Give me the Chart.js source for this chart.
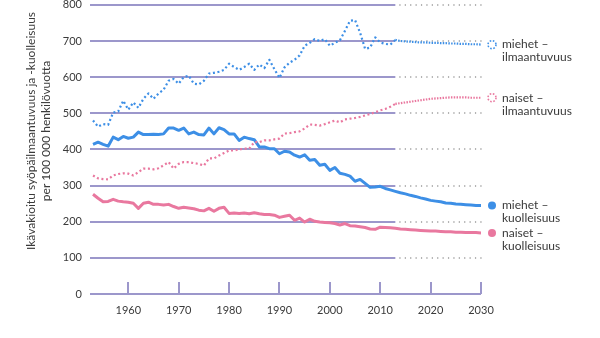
<!DOCTYPE html>
<html>
<head>
    <title>Syöpäilmaantuvuus ja kuolleisuus</title>
    <style>
        body {
            margin: 0;
            padding: 0;
            background-color: #ffffff;
        }

        #wrap {
            position: relative;
            width: 600px;
            height: 338px;
            overflow: hidden;
        }

        /* shifted up so the 800 label gets clipped like the original */
        canvas {
            display: block;
            position: absolute;
            left: 0;
            top: -7px;
        }
    </style>
    <script src="https://cdn.jsdelivr.net/npm/chart.js@4"></script>
    <script>
        // Years 1953-2012 observed, 2013-2030 projection
        var years = [];
        for (var yr = 1953; yr <= 2030; yr++) years.push(yr);

        var menIncidence = [
            480, 463, 470, 468, 502, 505, 535, 510, 530, 515,
            540, 555, 540, 555, 565, 590, 595, 582, 600, 604,
            582, 580, 590, 610, 612, 615, 620, 637, 628, 620,
            628, 637, 620, 635, 625, 648, 622, 598, 627, 640,
            648, 660, 687, 695, 705, 700, 705, 687, 695, 702,
            728, 756, 758, 723, 678, 682, 710, 696, 692, 690,
            703, 700, 699, 698, 697, 696, 696, 695, 695, 694,
            694, 693, 693, 692, 692, 691, 691, 690
        ];
        var womenIncidence = [
            328, 320, 318, 317, 328, 332, 334, 333, 328, 337,
            347, 347, 345, 348, 356, 365, 347, 360, 365, 365,
            362, 360, 355, 375, 375, 383, 390, 397, 397, 400,
            402, 402, 420, 420, 425, 425, 428, 430, 444, 445,
            448, 450, 458, 469, 468, 466, 470, 475, 480, 475,
            483, 485, 487, 490, 494, 498, 503, 508, 512, 518,
            526, 528, 530, 532, 534, 536, 538, 540, 541, 542,
            543, 544, 544, 544, 544, 543, 543, 543
        ];
        var menMortality = [
            414, 420, 414, 409, 434, 427, 436, 431, 434, 448,
            441, 441, 442, 441, 443, 459, 459, 453, 459, 443,
            448, 441, 440, 459, 443, 460, 455, 443, 443, 425,
            434, 430, 427, 407, 407, 402, 402, 388, 395, 393,
            384, 379, 385, 370, 372, 356, 359, 342, 350, 334,
            331, 326, 312, 317, 306, 295, 296, 298, 292, 288,
            284, 280, 277, 273, 270, 266, 263, 259, 257, 255,
            252, 251, 249, 248, 247, 246, 245, 245
        ];
        var womenMortality = [
            276, 265, 255, 256, 262, 257, 255, 254, 251, 237,
            251, 254, 248, 248, 246, 248, 242, 237, 240, 238,
            236, 232, 230, 237, 229, 237, 240, 223, 224, 223,
            224, 222, 225, 222, 220, 220, 218, 212, 215, 218,
            204, 210, 199, 207, 201, 199, 198, 197, 195, 191,
            195, 189, 188, 186, 184, 180, 179, 185, 184, 183,
            182, 180, 179, 178, 177, 176, 175, 174, 174, 173,
            172, 172, 171, 171, 170, 170, 170, 169
        ];

        var seriesNames = [
            ['miehet –', 'ilmaantuvuus'],
            ['naiset –', 'ilmaantuvuus'],
            ['miehet –', 'kuolleisuus'],
            ['naiset –', 'kuolleisuus']
        ];
        var yTicks = [0, 100, 200, 300, 400, 500, 600, 700, 800];
        var xTicks = [1960, 1970, 1980, 1990, 2000, 2010, 2020, 2030];
        var yTitle = ['Ikävakioitu syöpäilmaantuvuus ja -kuolleisuus', 'per 100 000 henkilövuotta'];

        var projectionStart = 2013;
        var blue = '#3d8fe6';
        var pink = '#e9789f';
        var gridPurple = '#9c97cb';
        var textColor = '#3a3a3a';
        var fontFamily = 'Lato, "Open Sans", sans-serif';
        var shiftY = 7; // canvas offset, see css

        function toPoints(values) {
            return values.map(function (v, i) { return { x: years[i], y: v }; });
        }

        // gridlines: solid up to projection start, dotted after; axis with decade ticks
        var decorPlugin = {
            id: 'decor',
            beforeDatasetsDraw: function (chart) {
                var ctx = chart.ctx;
                var xs = chart.scales.x;
                var ys = chart.scales.y;
                var left = chart.chartArea.left;
                var right = chart.chartArea.right;
                var split = xs.getPixelForValue(projectionStart);
                ctx.save();
                yTicks.forEach(function (v) {
                    if (v === 0) return;
                    var y = Math.round(ys.getPixelForValue(v));
                    ctx.setLineDash([]);
                    ctx.strokeStyle = gridPurple;
                    ctx.lineWidth = 2;
                    ctx.beginPath();
                    ctx.moveTo(left, y);
                    ctx.lineTo(split, y);
                    ctx.stroke();
                    ctx.setLineDash([1.2, 4.2]);
                    ctx.strokeStyle = '#9a9a9a';
                    ctx.lineWidth = 1.3;
                    ctx.beginPath();
                    ctx.moveTo(split + 4, y);
                    ctx.lineTo(right + 2, y);
                    ctx.stroke();
                });
                var y0 = Math.round(ys.getPixelForValue(0));
                ctx.setLineDash([]);
                ctx.strokeStyle = gridPurple;
                ctx.lineWidth = 2;
                ctx.beginPath();
                ctx.moveTo(left, y0);
                ctx.lineTo(right, y0);
                ctx.stroke();
                xTicks.forEach(function (v) {
                    var x = Math.round(xs.getPixelForValue(v));
                    ctx.beginPath();
                    ctx.moveTo(x, y0);
                    ctx.lineTo(x, y0 - 12);
                    ctx.stroke();
                });
                ctx.restore();
            },
            afterDraw: function (chart) {
                var ctx = chart.ctx;
                var ys = chart.scales.y;
                var right = chart.chartArea.right;
                ctx.save();
                ctx.font = '12px ' + fontFamily;
                ctx.fillStyle = textColor;
                ctx.textBaseline = 'middle';

                // end-of-line labels
                chart.data.datasets.forEach(function (ds, i) {
                    var last = ds.data[ds.data.length - 1].y;
                    var y = ys.getPixelForValue(last);
                    var mx = right + 11;
                    ctx.beginPath();
                    ctx.arc(mx, y, 4, 0, Math.PI * 2);
                    if (i < 2) {
                        ctx.setLineDash([1.6, 1.6]);
                        ctx.strokeStyle = ds.borderColor;
                        ctx.lineWidth = 1.6;
                        ctx.stroke();
                        ctx.setLineDash([]);
                    } else {
                        ctx.fillStyle = ds.borderColor;
                        ctx.fill();
                    }
                    ctx.fillStyle = textColor;
                    ctx.textAlign = 'left';
                    ctx.fillText(seriesNames[i][0], right + 21, y);
                    ctx.fillText(seriesNames[i][1], right + 21, y + 13);
                });

                // rotated y axis title, two lines
                ctx.textAlign = 'center';
                ctx.save();
                ctx.translate(31, 131 + shiftY);
                ctx.rotate(-Math.PI / 2);
                ctx.fillText(yTitle[0], 0, 0);
                ctx.restore();
                ctx.save();
                ctx.translate(46, 131 + shiftY);
                ctx.rotate(-Math.PI / 2);
                ctx.fillText(yTitle[1], 0, 0);
                ctx.restore();
                ctx.restore();
            }
        };

        function lineSet(values, color, dotted) {
            return {
                data: toPoints(values),
                borderColor: color,
                backgroundColor: color,
                borderWidth: dotted ? 2.2 : 3,
                borderDash: dotted ? [2, 2.6] : [],
                borderCapStyle: 'butt',
                borderJoinStyle: 'round',
                pointRadius: 0,
                tension: 0,
                segment: dotted ? {
                    borderDash: function (c) {
                        return c.p0.parsed.x >= projectionStart ? [1.5, 1.3] : [2, 2.6];
                    }
                } : {}
            };
        }

        document.addEventListener("DOMContentLoaded", function () {
            var ctx = document.getElementById('myChart').getContext('2d');
            var myChart = new Chart(ctx, {
                type: 'line',
                data: {
                    datasets: [
                        lineSet(menIncidence, blue, true),
                        lineSet(womenIncidence, pink, true),
                        lineSet(menMortality, blue, false),
                        lineSet(womenMortality, pink, false)
                    ]
                },
                options: {
                    responsive: false,
                    animation: false,
                    devicePixelRatio: 1,
                    layout: {
                        padding: { left: 0, right: 119, top: 0, bottom: 0 }
                    },
                    plugins: {
                        legend: { display: false },
                        tooltip: { enabled: false }
                    },
                    scales: {
                        x: {
                            type: 'linear',
                            min: 1952.4,
                            max: 2030,
                            grid: { display: false, drawTicks: false },
                            border: { display: false },
                            afterBuildTicks: function (scale) {
                                scale.ticks = xTicks.map(function (v) { return { value: v }; });
                            },
                            afterFit: function (scale) {
                                scale.height = 44;
                            },
                            ticks: {
                                padding: 10,
                                maxRotation: 0,
                                color: textColor,
                                font: { family: fontFamily, size: 11 },
                                callback: function (v) { return String(v); }
                            }
                        },
                        y: {
                            min: 0,
                            max: 800,
                            grid: { display: false, drawTicks: false },
                            border: { display: false },
                            afterBuildTicks: function (scale) {
                                scale.ticks = yTicks.map(function (v) { return { value: v }; });
                            },
                            afterFit: function (scale) {
                                scale.width = 90;
                            },
                            ticks: {
                                padding: 8,
                                color: textColor,
                                font: { family: fontFamily, size: 11, lineHeight: 0.7 },
                                callback: function (v) { return String(v); }
                            }
                        }
                    }
                },
                plugins: [decorPlugin]
            });
        });
    </script>
</head>
<body>
    <div id="wrap">
        <canvas id="myChart" width="600" height="345"></canvas>
    </div>
</body>
</html>
